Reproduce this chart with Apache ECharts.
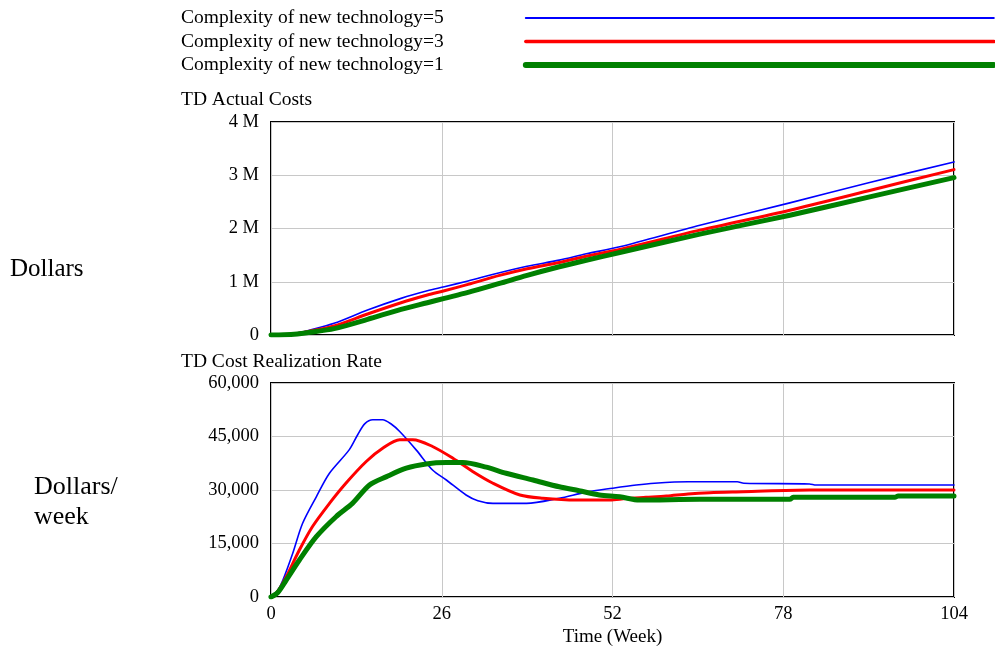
<!DOCTYPE html>
<html>
<head>
<meta charset="utf-8">
<script src="https://cdn.jsdelivr.net/npm/echarts@6/dist/echarts.min.js"></script>
<style>html,body{margin:0;padding:0;background:#fff}#c{width:995px;height:648px}</style>
</head>
<body>
<div id="c"></div>
<script>
// ---- data ----
var seriesNames = ['Complexity of new technology=5', 'Complexity of new technology=3', 'Complexity of new technology=1'];
var xTicks = [0, 26, 52, 78, 104];
var costTicksLabel = ['0', '1 M', '2 M', '3 M', '4 M'];

// TD Actual Costs (Dollars) : [week, value]
var costC5 = [[0,0],[2,10000],[4,40000],[6,95000],[9.6,219000],[14.7,469000],[19.8,688000],[23.8,831000],[26.4,906000],[30,1015000],[34.8,1169000],[39,1290000],[43.9,1406000],[48,1525000],[53.1,1656000],[65.3,2062000],[79,2481000],[91,2860000],[104,3250000]];
var costC3 = [[0,0],[2,6000],[4,28000],[6,75000],[9.6,169000],[14.7,394000],[19.8,606000],[23.8,750000],[26.4,831000],[30,950000],[34.8,1119000],[39,1245000],[43.9,1362000],[48,1480000],[53.1,1606000],[65.3,1969000],[79,2344000],[91,2710000],[104,3106000]];
var costC1 = [[0,0],[2,4000],[4,20000],[6,50000],[9.6,119000],[14.7,294000],[19.8,481000],[23.8,606000],[26.4,688000],[30,800000],[34.8,969000],[39,1120000],[43.9,1281000],[48,1404000],[53.1,1549000],[65.3,1894000],[79,2250000],[91,2590000],[104,2956000]];

// TD Cost Realization Rate (Dollars/week) : [week, value]
var rateC5 = [[0,0],[1,1800],[1.8,4700],[3.3,12200],[4.8,20600],[6.9,28100],[8.9,34700],[11.9,41250],[13.2,45500],[14.3,48600],[15.5,49700],[17,49700],[18.3,48500],[19.6,46400],[22.1,41250],[24.6,35600],[26.7,32800],[29.7,28600],[31.5,27000],[33.8,26250],[38.9,26250],[43.9,27700],[48,29400],[52,30500],[55.6,31400],[58.4,31900],[63.5,32300],[71,32300],[72,31900],[82,31700],[83,31400],[104,31400]];
var rateC3 = [[0,0],[1,1500],[2.3,5600],[4.3,13100],[6.3,19700],[8.9,26250],[11.4,31900],[14.5,38000],[17,41700],[19.6,44100],[21.6,44100],[24.6,42200],[27.7,38900],[30.7,35200],[33.8,31900],[37.9,28600],[41.4,27700],[46.5,27200],[51.6,27200],[54,27600],[57.1,27950],[60.2,28300],[63.5,28900],[66.8,29250],[71.9,29500],[82,30000],[104,30000]];
var rateC1 = [[0,0],[1,1200],[2.3,4700],[4.3,10300],[6.9,16900],[9.9,22500],[12.4,26250],[15,31400],[17.6,33750],[20.6,36100],[23.6,37300],[26.7,37700],[29.2,37700],[32.8,36400],[35.8,34700],[39.9,32800],[43.9,30900],[46.9,29800],[50,28600],[53.1,28100],[56.1,27200],[65.3,27400],[79,27400],[79.5,27950],[95,27950],[95.5,28300],[104,28300]];

// ---- chart ----
var FONT = 'Liberation Serif';
var colors = ['#0000ff', '#ff0000', '#008000'];
var widths = [1.6, 3, 5];
var legendWidths = [2, 3.5, 6];
var chart = echarts.init(document.getElementById('c'), null, {renderer: 'canvas'});

function mkSeries(name, data, idx, gi) {
  return {
    name: name, type: 'line', data: data, xAxisIndex: gi, yAxisIndex: gi,
    symbol: 'none', smooth: 0.3, animation: false,
    lineStyle: {color: colors[idx], width: widths[idx], cap: 'round', join: 'round'},
    itemStyle: {color: colors[idx]}
  };
}

var axisCommonX = {
  type: 'value', min: xTicks[0], max: xTicks[xTicks.length - 1], interval: 26,
  axisLine: {show: false}, axisTick: {show: false},
  splitLine: {show: true, lineStyle: {color: '#c8c8c8', width: 1}}
};

var option = {
  animation: false,
  textStyle: {fontFamily: FONT, color: '#000'},
  title: [
    {text: 'TD Actual Costs', left: 181, top: 90, padding: 0, textStyle: {fontFamily: FONT, fontSize: 19.5, fontWeight: 'normal', color: '#000'}},
    {text: 'TD Cost Realization Rate', left: 181, top: 352, padding: 0, textStyle: {fontFamily: FONT, fontSize: 19.5, fontWeight: 'normal', color: '#000'}},
    {text: 'Dollars', left: 10, top: 257, padding: 0, textStyle: {fontFamily: FONT, fontSize: 25, fontWeight: 'normal', color: '#000'}},
    {text: 'Dollars/\nweek', left: 34, top: 472, padding: 0, textStyle: {fontFamily: FONT, fontSize: 26, lineHeight: 30, fontWeight: 'normal', color: '#000'}}
  ],
  legend: {
    data: seriesNames.map(function (n, i) { return {name: n, lineStyle: {width: legendWidths[i]}}; }),
    orient: 'vertical', left: 181, top: 8, align: 'right',
    itemWidth: 468, itemHeight: 14, itemGap: 3.5, padding: 0,
    itemStyle: {opacity: 0},
    textStyle: {fontFamily: FONT, fontSize: 19.5, color: '#000', padding: [0, 77, 0, 0]},
    selectedMode: false
  },
  grid: [
    {left: 271, top: 122, width: 683, height: 213, show: true, borderColor: '#000', borderWidth: 2, backgroundColor: 'transparent'},
    {left: 271, top: 383, width: 683, height: 214, show: true, borderColor: '#000', borderWidth: 2, backgroundColor: 'transparent'}
  ],
  xAxis: [
    Object.assign({}, axisCommonX, {gridIndex: 0, axisLabel: {show: false}}),
    Object.assign({}, axisCommonX, {gridIndex: 1,
      axisLabel: {show: true, margin: 8, fontFamily: FONT, fontSize: 18.5, color: '#000'},
      name: 'Time (Week)', nameLocation: 'middle', nameGap: 31,
      nameTextStyle: {fontFamily: FONT, fontSize: 19, color: '#000'}})
  ],
  yAxis: [
    {type: 'value', gridIndex: 0, min: 0, max: 4000000, interval: 1000000,
      axisLine: {show: false}, axisTick: {show: false},
      splitLine: {show: true, lineStyle: {color: '#c8c8c8', width: 1}},
      axisLabel: {margin: 12, fontFamily: FONT, fontSize: 18.5, color: '#000',
        formatter: function (v) { return costTicksLabel[Math.round(v / 1000000)]; }}},
    {type: 'value', gridIndex: 1, min: 0, max: 60000, interval: 15000,
      axisLine: {show: false}, axisTick: {show: false},
      splitLine: {show: true, lineStyle: {color: '#c8c8c8', width: 1}},
      axisLabel: {margin: 12, fontFamily: FONT, fontSize: 18.5, color: '#000',
        formatter: function (v) { return v === 0 ? '0' : v.toLocaleString('en-US'); }}}
  ],
  series: [
    mkSeries(seriesNames[0], costC5, 0, 0),
    mkSeries(seriesNames[1], costC3, 1, 0),
    mkSeries(seriesNames[2], costC1, 2, 0),
    mkSeries(seriesNames[0], rateC5, 0, 1),
    mkSeries(seriesNames[1], rateC3, 1, 1),
    mkSeries(seriesNames[2], rateC1, 2, 1)
  ]
};
chart.setOption(option);
</script>
</body>
</html>
